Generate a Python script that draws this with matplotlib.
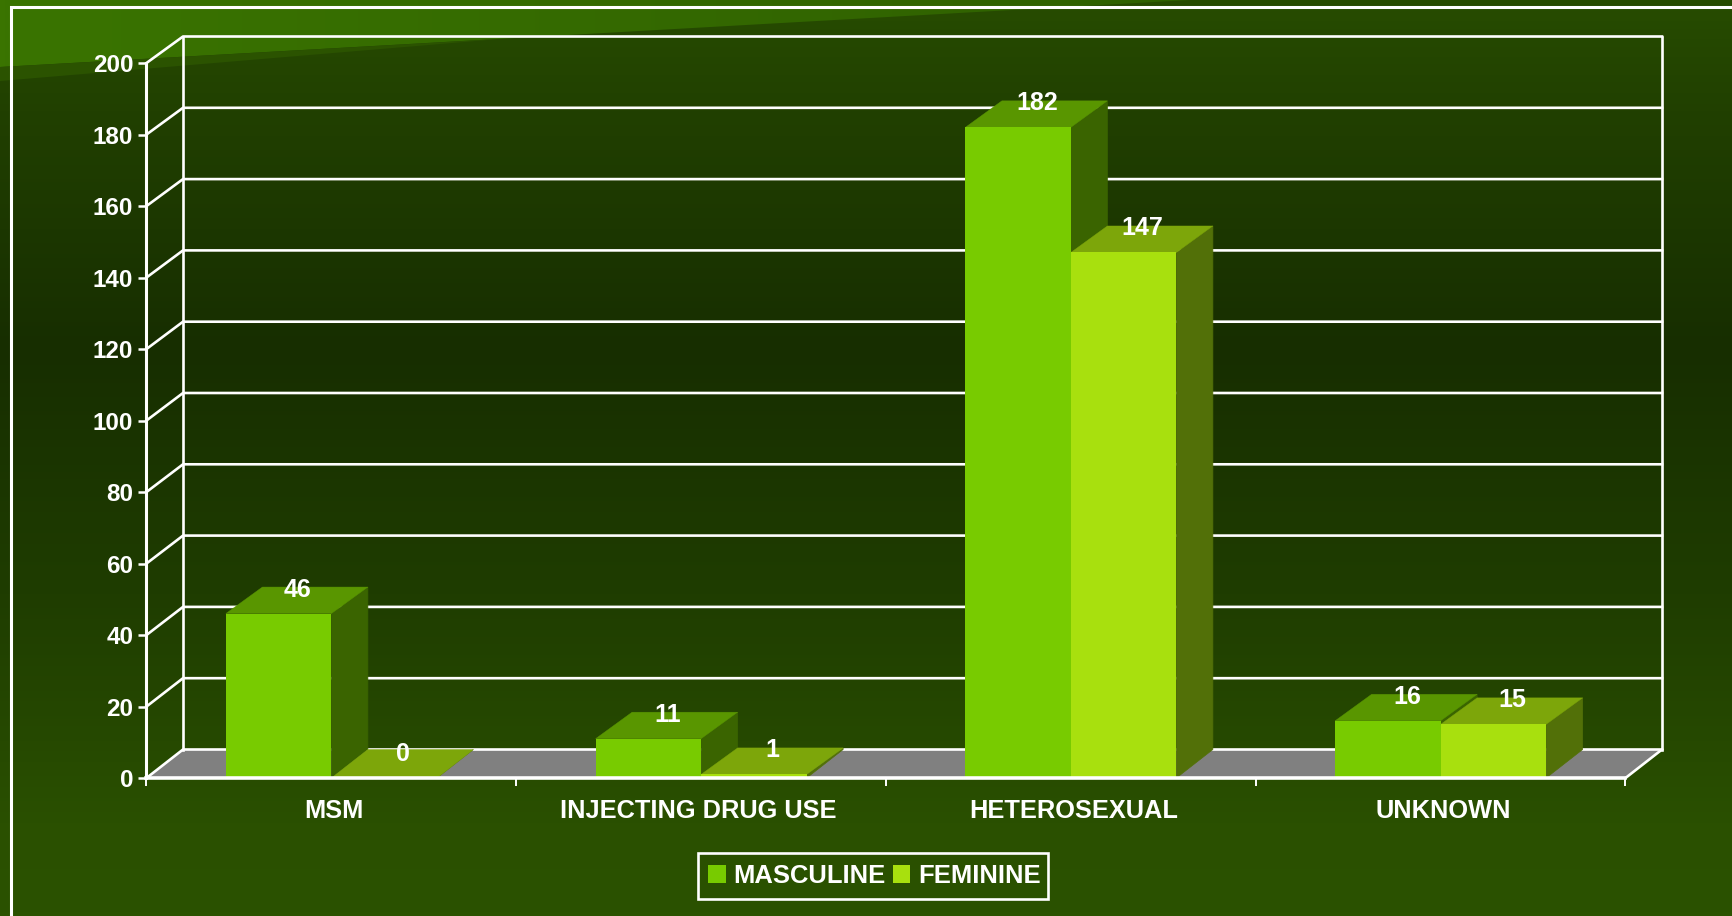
import numpy as np
import matplotlib
matplotlib.use("Agg")
import matplotlib.pyplot as plt
from matplotlib.colors import LinearSegmentedColormap
from matplotlib.patches import Polygon, Patch, Rectangle

categories = ["MSM", "INJECTING DRUG USE", "HETEROSEXUAL", "UNKNOWN"]
masculine = [46, 11, 182, 16]
feminine = [0, 1, 147, 15]
series_names = ["MASCULINE", "FEMININE"]
yticks = list(range(0, 201, 20))

W, H = 1733, 916
plt.rcParams["font.family"] = ["Liberation Sans", "DejaVu Sans"]
plt.rcParams["font.weight"] = "bold"
fig = plt.figure(figsize=(W / 100, H / 100), dpi=100)


def px_rect(x0, y_top, x1, y_bot):
    return [x0 / W, 1 - y_bot / H, (x1 - x0) / W, (y_bot - y_top) / H]


# ---- slide background (pixel space) ----
bg = fig.add_axes([0, 0, 1, 1], zorder=0)
bg.set_xlim(0, W)
bg.set_ylim(H, 0)
bg.axis("off")
cmap = LinearSegmentedColormap.from_list(
    "slide",
    [(0.0, "#274c00"), (0.12, "#214000"), (0.38, "#172e00"),
     (0.65, "#1f3d00"), (0.9, "#2a5000"), (1.0, "#2b5200")],
)
bg.imshow(np.linspace(0, 1, 256)[:, None], cmap=cmap, aspect="auto", extent=[0, W, H, 0], zorder=0)
wedge_grad = LinearSegmentedColormap.from_list("w", ["#3a7400", "#2f6000"])
im = bg.imshow(np.linspace(0, 1, 256)[None, :], cmap=wedge_grad, aspect="auto",
               extent=[0, 1190, 67, 0], zorder=1)
clip = Polygon([(0, 0), (1190, 0), (0, 67)], transform=bg.transData, fc="none", ec="none")
bg.add_patch(clip)
im.set_clip_path(clip)
bg.add_patch(Polygon([(0, 67), (500, 39), (0, 81)], fc="#2b5300", ec="none", zorder=1))
bg.set_xlim(0, W)
bg.set_ylim(H, 0)
bg.plot([11.5, 11.5, W], [H, 6.5, 6.5], color="white", lw=2.2, zorder=2, solid_joinstyle="miter")
# legend box
bg.add_patch(Rectangle((698, 853), 350, 46, fc="none", ec="white", lw=1.9, zorder=3))

# ---- chart axes ----
X0, X1, Y200, Y0 = 146.5, 1625.5, 63, 778
ax = fig.add_axes(px_rect(X0, Y200, X1, Y0), zorder=1)
ax.set_xlim(0, 4)
ax.set_ylim(0, 200)
ax.patch.set_alpha(0)
for s in ax.spines.values():
    s.set_visible(False)

ux = (X1 - X0) / 4      # px per category
uy = (Y0 - Y200) / 200  # px per value
DX = 36.5 / ux
DY_TOP = 26.5 / uy


def dy(v):
    return (28.5 - v * 2.0 / 200) / uy


WHITE_LW = 1.9
line_kw = dict(color="white", clip_on=False, solid_capstyle="projecting")

# floor
ax.add_patch(Polygon([(0, 0), (4, 0), (4 + DX, dy(0)), (DX, dy(0))], fc="#808080", ec="none",
                     clip_on=False, zorder=1))
# walls and gridlines
for v in yticks:
    d = dy(v)
    ax.plot([0, DX, 4 + DX], [v, v + d, v + d], lw=WHITE_LW, zorder=2, **line_kw)
ax.plot([DX, DX], [dy(0), 200 + dy(200)], lw=WHITE_LW, zorder=2, **line_kw)
ax.plot([4 + DX, 4 + DX], [dy(0), 200 + dy(200)], lw=WHITE_LW, zorder=2, **line_kw)
ax.plot([4, 4 + DX], [0, dy(0)], lw=WHITE_LW, zorder=2, **line_kw)

# bars
BW = 105.5 / ux
styles = [("#78cb00", "#599600", "#3a6400"), ("#a8e00e", "#7da60a", "#527008")]
for j, vals in enumerate([masculine, feminine]):
    front, top, side = styles[j]
    for i, v in enumerate(vals):
        xl = i + 0.5 - BW + j * BW
        xr = xl + BW
        ax.add_patch(Polygon([(xr, 0), (xr + DX, dy(0)), (xr + DX, max(v + DY_TOP, dy(0))), (xr, v)],
                             fc=side, ec=side, lw=0.5, clip_on=False, zorder=3 + j))
        ax.add_patch(Polygon([(xl, v), (xr, v), (xr + DX, max(v + DY_TOP, dy(0))),
                              (xl + DX, max(v + DY_TOP, dy(0)))],
                             fc=top, ec=top, lw=0.3, clip_on=False, zorder=3 + j))
        if v > 0:
            ax.bar(xl + BW / 2, v, width=BW, color=front, zorder=3 + j)
        ax.annotate(str(v), (xl + BW / 2, v), xytext=(19 * 0.72, 24 * 0.72),
                    textcoords="offset points", ha="center", va="center",
                    color="white", fontsize=18, fontweight="bold", zorder=8,
                    annotation_clip=False)

# front axes
ax.plot([0, 4], [0, 0], lw=2.6, zorder=7, **line_kw)
ax.plot([0, 0], [0, 200], lw=2.2, zorder=7, **line_kw)

ax.set_yticks(yticks)
ax.set_yticklabels([str(v) for v in yticks], fontsize=17.5, fontweight="bold", color="white")
ax.set_xticks(range(5))
ax.set_xticklabels([])
label_shift_px = np.array([3, -3, 3, 3])
ax.set_xticks(np.arange(4) + 0.5 + label_shift_px / ux, minor=True)
ax.set_xticklabels(categories, minor=True, fontsize=18.3, fontweight="bold", color="white")
ax.tick_params(axis="x", which="minor", length=0, pad=15)
ax.tick_params(axis="x", which="major", length=6, width=1.4, color="white")
ax.tick_params(axis="y", which="major", length=5.5, width=1.8, color="white", pad=4)

# legend
handles = [Patch(fc=styles[0][0], ec="none", label=series_names[0]),
           Patch(fc=styles[1][0], ec="none", label=series_names[1])]
leg = fig.legend(handles=handles, loc="center", bbox_to_anchor=(874.5 / W, 1 - 876 / H), ncols=2,
                 fontsize=18.45, frameon=False,
                 handlelength=0.67, handleheight=0.67,
                 handletextpad=0.3, columnspacing=0.3, borderpad=0.36, labelcolor="white")
leg.set_zorder(5)

fig.savefig("out.png", dpi=100)
